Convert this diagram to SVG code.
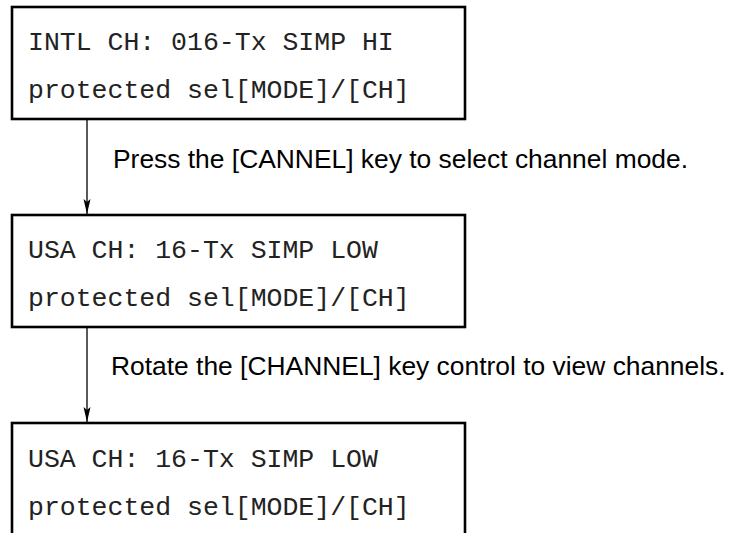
<svg xmlns="http://www.w3.org/2000/svg" width="733" height="533" viewBox="0 0 733 533">
<style>
.box{fill:#fff;stroke:#000;stroke-width:2.6}
.mono{font-family:"Liberation Mono","Courier New",monospace;font-size:26.5px;fill:#222}
.sans{font-family:"Liberation Sans",Arial,sans-serif;font-size:26.4px;fill:#000}
.conn{stroke:#000;stroke-width:1.3;fill:none}
</style>
<defs>
<marker id="arr" viewBox="0 0 15 8" refX="15" refY="4" markerWidth="15" markerHeight="8" markerUnits="userSpaceOnUse" orient="auto">
<path d="M0,0.5 L15,4 L0,7.5 L3,4 Z" fill="#000"/>
</marker>
</defs>
<rect width="733" height="533" fill="#fff"/>
<g id="connectors">
<line class="conn" x1="87" y1="119" x2="87" y2="214" marker-end="url(#arr)"/>
<line class="conn" x1="87" y1="327" x2="87" y2="422" marker-end="url(#arr)"/>
</g>
<g id="node1">
<rect class="box" x="12" y="7" width="453" height="112"/>
<text class="mono" x="28" y="50">INTL CH: 016-Tx SIMP HI</text>
<text class="mono" x="28" y="98">protected sel[MODE]/[CH]</text>
</g>
<g id="label1">
<text class="sans" x="113" y="168">Press the [CANNEL] key to select channel mode.</text>
</g>
<g id="node2">
<rect class="box" x="12" y="215" width="453" height="112"/>
<text class="mono" x="28" y="258">USA CH: 16-Tx SIMP LOW</text>
<text class="mono" x="28" y="306">protected sel[MODE]/[CH]</text>
</g>
<g id="label2">
<text class="sans" x="111" y="375">Rotate the [CHANNEL] key control to view channels.</text>
</g>
<g id="node3">
<rect class="box" x="12" y="423" width="453" height="112"/>
<text class="mono" x="28" y="467">USA CH: 16-Tx SIMP LOW</text>
<text class="mono" x="28" y="515">protected sel[MODE]/[CH]</text>
</g>
</svg>
